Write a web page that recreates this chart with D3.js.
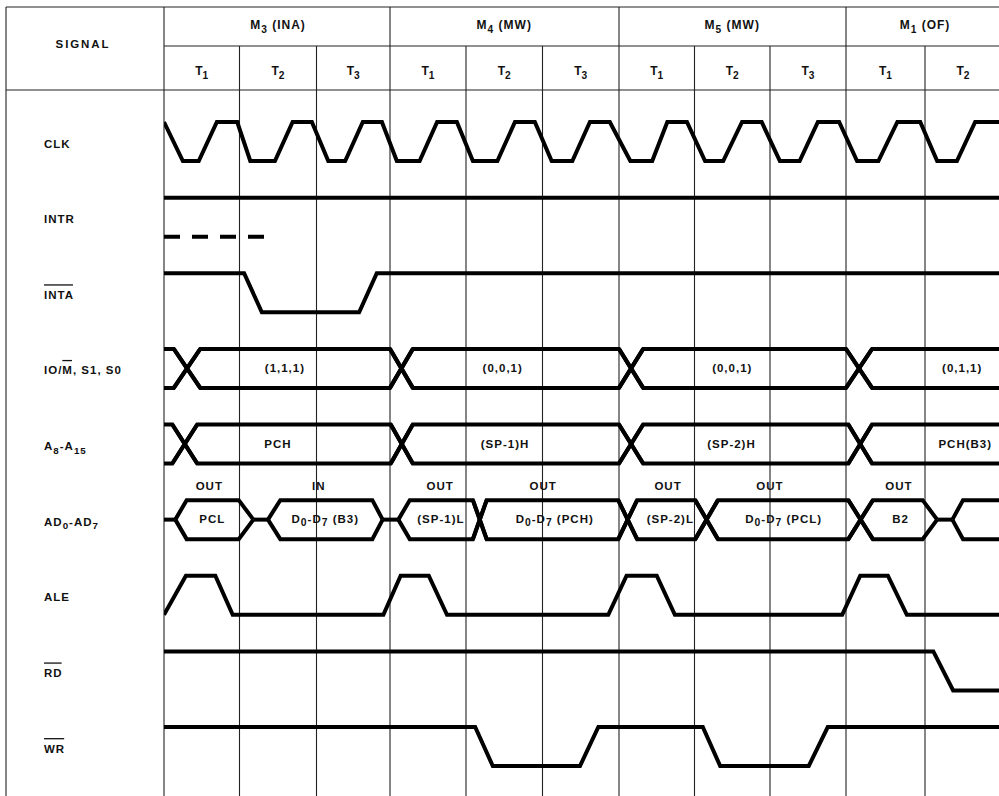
<!DOCTYPE html>
<html><head><meta charset="utf-8">
<script src="https://cdn.jsdelivr.net/npm/d3@7"></script>
<style>
body{margin:0;background:#fff}
text{font-family:"Liberation Sans",Arial,Helvetica,sans-serif;font-weight:bold;fill:#111}
</style>
</head><body>
<svg id="c" width="999" height="796"></svg>
<script>
// ---------- data (time in T-states from start of M3 T1) ----------
const cycleLabels = ["M_{3} (INA)", "M_{4} (MW)", "M_{5} (MW)", "M_{1} (OF)"];
const cycleBounds = [0, 3, 6, 9, 11];
const stateLabels = ["T_{1}","T_{2}","T_{3}","T_{1}","T_{2}","T_{3}","T_{1}","T_{2}","T_{3}","T_{1}","T_{2}"];
const signalKeys  = ["clk","intr","inta","iom","addr","ad","ale","rd","wr"];
const signalNames = ["CLK","INTR","^{INTA}","IO/^{M}, S1, S0","A_{8}-A_{15}","AD_{0}-AD_{7}","ALE","^{RD}","^{WR}"];

// digital waveforms: [time, level]
const clk = [[0,1],[0.25,0],[0.46,0],[0.70,1],[0.97,1],[1.14,0],[1.46,0],[1.69,1],[1.94,1],[2.16,0],[2.39,0],[2.63,1],[2.89,1],
  [3.09,0],[3.39,0],[3.62,1],[3.88,1],[4.09,0],[4.41,0],[4.64,1],[4.90,1],[5.12,0],[5.39,0],[5.62,1],[5.88,1],
  [6.15,0],[6.44,0],[6.64,1],[6.90,1],[7.14,0],[7.38,0],[7.63,1],[7.89,1],[8.13,0],[8.39,0],[8.63,1],[8.91,1],
  [9.14,0],[9.41,0],[9.65,1],[9.94,1],[10.16,0],[10.42,0],[10.66,1],[11,1]];
const intr = [[0,1],[11,1]];
const intrPending = [[0,0],[1.47,0]];
const inta = [[0,1],[1.06,1],[1.29,0],[2.58,0],[2.82,1],[11,1]];
const ale = [[0,0],[0.29,1],[0.68,1],[0.91,0],[2.91,0],[3.14,1],[3.51,1],[3.75,0],[5.86,0],[6.10,1],[6.50,1],[6.74,0],
  [8.95,0],[9.18,1],[9.53,1],[9.77,0],[11,0]];
const rd = [[0,1],[10.11,1],[10.37,0],[11,0]];
const wr = [[0,1],[4.12,1],[4.35,0],[5.49,0],[5.73,1],[7.11,1],[7.34,0],[8.51,0],[8.76,1],[11,1]];

// bus windows: [open start, open full, close start, close end]
const iomWindows = [[-1,-0.9,0.13,0.48],[0.13,0.48,3.0,3.30],[3.0,3.30,6.0,6.32],[6.0,6.32,9.0,9.33],[9.0,9.33,12,12.3]];
const iomValues  = ["","(1,1,1)","(0,0,1)","(0,0,1)","(0,1,1)"];
const iomValueAt = [null,1.59,4.48,7.50,10.49];

const addrWindows = [[-1,-0.9,0.11,0.44],[0.11,0.44,3.01,3.30],[3.01,3.30,6.0,6.32],[6.0,6.32,9.03,9.33],[9.03,9.33,12,12.3]];
const addrValues  = ["","PCH","(SP-1)H","(SP-2)H","PCH(B3)"];
const addrValueAt = [null,1.50,4.51,7.49,10.53];

const adWindows = [[0.15,0.30,0.99,1.18],[1.37,1.53,2.76,2.90],[3.11,3.26,4.09,4.27],[4.09,4.27,5.99,6.24],
  [5.99,6.24,7.01,7.31],[7.01,7.31,9.03,9.34],[9.03,9.34,9.97,10.16],[10.36,10.50,12,12.3]];
const adValues  = ["PCL","D_{0}-D_{7} (B3)","(SP-1)L","D_{0}-D_{7} (PCH)","(SP-2)L","D_{0}-D_{7} (PCL)","B2",""];
const adValueAt = [0.64,2.12,3.67,5.16,6.68,8.18,9.69,null];
const adDir     = ["OUT","IN","OUT","OUT","OUT","OUT","OUT",""];
const adDirAt   = [0.60,2.03,3.66,5.01,6.65,8.00,9.67,null];

// ---------- layout ----------
const svg = d3.select("#c");
const W = 999, H = 796;
const x = d3.scaleLinear().domain(d3.range(12))
  .range([164,239.5,316.5,390,466,542.5,619,694.5,770,846,925,1001]);
const rowY = d3.scalePoint().domain(signalKeys).range([143,748]);
const lvl = d3.scaleLinear().domain([0,1]).range([18,-21]);
const yOf = (key,v) => rowY(key) + lvl(v);

function rich(g, str, o){
  const size = o.size;
  const t = g.append("text").attr("x",o.x).attr("y",o.y)
    .attr("text-anchor",o.anchor||"middle")
    .style("font-size",size+"px").style("letter-spacing",(o.ls||0)+"px");
  const parts = str.match(/_\{[^}]*\}|\^\{[^}]*\}|[^_^]+/g);
  let shift = 0; const ov = [];
  parts.forEach(p=>{
    if(p.startsWith("_{")){
      const d = size*0.32;
      t.append("tspan").attr("dy",d).style("font-size",(size*(o.sub||0.8))+"px").text(p.slice(2,-1));
      shift += d;
    } else {
      const over = p.startsWith("^{");
      const ts = t.append("tspan").attr("dy",-shift).text(over?p.slice(2,-1):p);
      shift = 0;
      if(over) ov.push(ts);
    }
  });
  ov.forEach(ts=>{
    const n = ts.node(), k = n.getNumberOfChars();
    const s = n.getStartPositionOfChar(0), e = n.getEndPositionOfChar(k-1);
    const yy = o.y - size*1.2;
    g.append("line").attr("x1",s.x).attr("x2",e.x-(o.ls||0)).attr("y1",yy).attr("y2",yy)
      .attr("stroke","#111").attr("stroke-width",1.3);
  });
  return t;
}

// ---------- grid ----------
const grid = svg.append("g").attr("stroke","#222").attr("stroke-width",1.1);
grid.append("line").attr("x1",6).attr("x2",6).attr("y1",7).attr("y2",H);
grid.append("line").attr("x1",6).attr("x2",W).attr("y1",7).attr("y2",7);
grid.append("line").attr("x1",x(0)).attr("x2",W).attr("y1",46).attr("y2",46);
grid.append("line").attr("x1",6).attr("x2",W).attr("y1",90).attr("y2",90);
d3.range(0,11).forEach(t=>{
  const top = cycleBounds.includes(t) ? 7 : 46;
  grid.append("line").attr("x1",x(t)).attr("x2",x(t)).attr("y1",top).attr("y2",H);
});

// ---------- header text ----------
const hdr = svg.append("g");
rich(hdr,"SIGNAL",{x:83,y:48,size:11.5,ls:1.9});
cycleLabels.forEach((s,i)=>rich(hdr,s,{x:x((cycleBounds[i]+cycleBounds[i+1])/2),y:29,size:12,ls:1,sub:0.85}));
stateLabels.forEach((s,i)=>rich(hdr,s,{x:x(i+0.5),y:75,size:12,sub:0.85}));

// ---------- signal names ----------
const names = svg.append("g");
signalKeys.forEach((k,i)=>rich(names,signalNames[i],{x:44,y:rowY(k)+4.5,size:11.5,anchor:"start",ls:1,sub:0.85}));

// ---------- waveforms ----------
svg.append("clipPath").attr("id","wclip").append("rect")
  .attr("x",x(0)).attr("y",90).attr("width",W-x(0)).attr("height",H-90);
const wave = svg.append("g").attr("clip-path","url(#wclip)")
  .attr("fill","none").attr("stroke","#000").attr("stroke-width",4).attr("stroke-linejoin","miter");

function digital(key, data, dash){
  const line = d3.line().x(d=>x(d[0])).y(d=>yOf(key,d[1]));
  const p = wave.append("path").attr("d",line(data));
  if(dash) p.attr("stroke-dasharray",dash);
}
digital("clk",clk);
digital("intr",intr);
digital("intr",intrPending,"16,12");
digital("inta",inta);
digital("ale",ale);
digital("rd",rd);
digital("wr",wr);

function bus(key, windows, tristate){
  const line = d3.line().x(d=>x(d[0])).y(d=>yOf(key,d[1]));
  windows.forEach((w,i)=>{
    const [a,b,c,d] = w;
    const prev = windows[i-1], next = windows[i+1];
    // overlapping neighbour -> full X crossing; otherwise converge to the float level
    const fromCross = prev ? prev[3] > a + 0.001 : a <= 0;
    const toCross = next ? next[0] < d - 0.001 : d >= 11;
    const inTop = fromCross ? 0 : 0.5, inBot = fromCross ? 1 : 0.5;
    const outTop = toCross ? 0 : 0.5, outBot = toCross ? 1 : 0.5;
    wave.append("path").attr("d", line([[a,inTop],[b,1],[c,1],[d,outTop]]));
    wave.append("path").attr("d", line([[a,inBot],[b,0],[c,0],[d,outBot]]));
  });
  if(tristate){
    let prev = 0;
    windows.forEach(w=>{
      if(w[0] > prev + 0.001) wave.append("path").attr("d", line([[prev,0.5],[w[0],0.5]]));
      prev = Math.max(prev, w[3]);
    });
  }
}
bus("iom",iomWindows,false);
bus("addr",addrWindows,false);
bus("ad",adWindows,true);

// ---------- bus value labels ----------
const lab = svg.append("g");
function busLabels(key, vals, at, dy){
  vals.forEach((v,i)=>{ if(v && at[i]!=null) rich(lab,v,{x:x(at[i]),y:rowY(key)+dy,size:11.5,ls:1,sub:0.9}); });
}
busLabels("iom",iomValues,iomValueAt,2.5);
busLabels("addr",addrValues,addrValueAt,2.5);
busLabels("ad",adValues,adValueAt,1.5);
busLabels("ad",adDir,adDirAt,-31);
</script>
</body></html>
